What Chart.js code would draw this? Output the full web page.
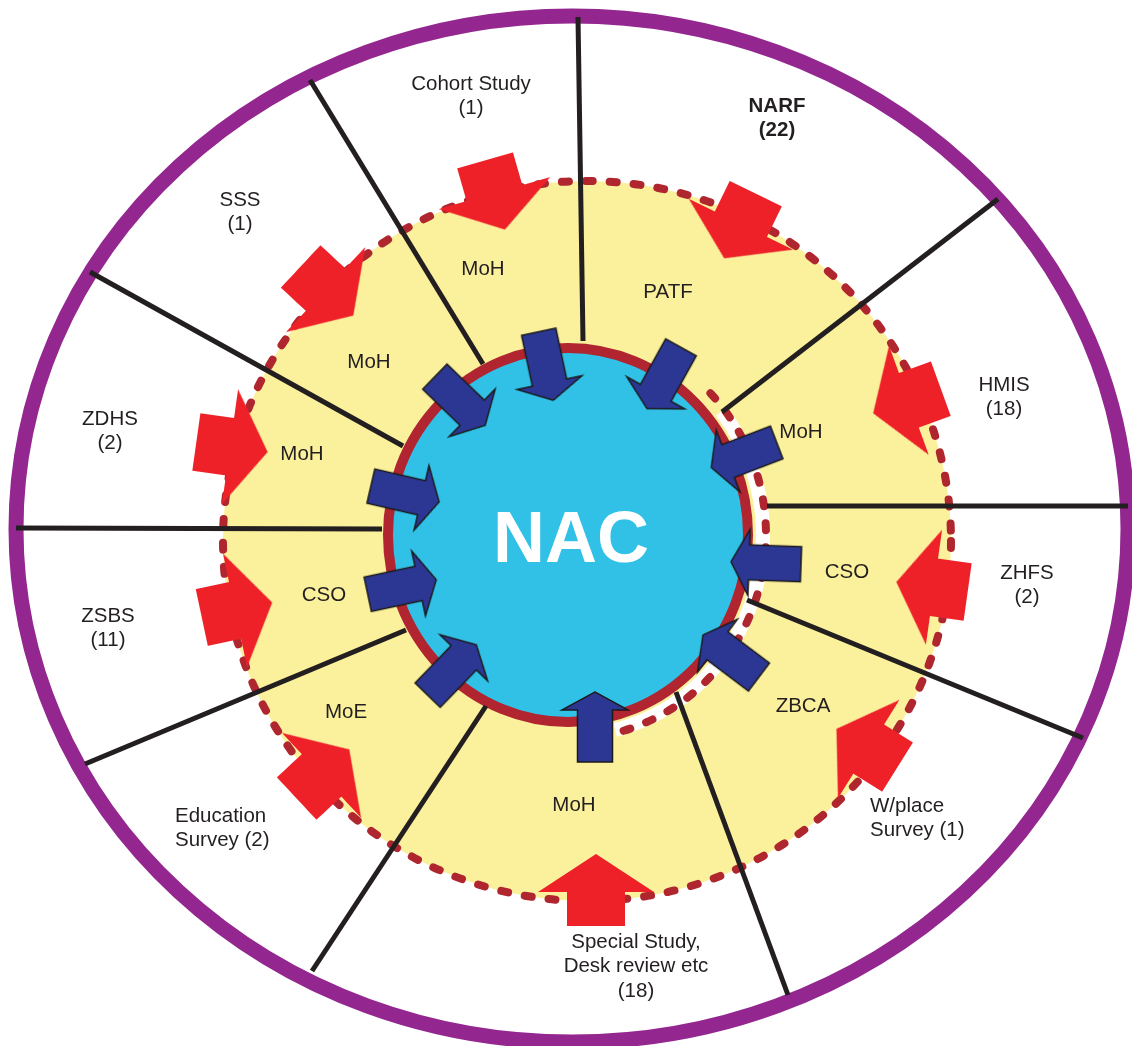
<!DOCTYPE html>
<html>
<head>
<meta charset="utf-8">
<title>NAC data flow</title>
<script src="https://cdn.jsdelivr.net/npm/chart.js@4.4.1/dist/chart.umd.min.js"></script>
<style>
  html, body { margin: 0; padding: 0; background: #fff; }
  canvas { display: block; }
</style>
</head>
<body>
<canvas id="diagram" width="1132" height="1046"></canvas>
<script>
// ===== Data (clockwise from the top sector) =====
const SOURCES       = ['Cohort Study', 'NARF', 'HMIS', 'ZHFS', 'W/place\nSurvey', 'Special Study,\nDesk review etc', 'Education\nSurvey', 'ZSBS', 'ZDHS', 'SSS'];
const SOURCE_COUNTS = [1, 22, 18, 2, 1, 18, 2, 11, 2, 1];
const COUNT_INLINE  = [false, false, false, false, true, false, true, false, false, false];
const AGENCIES      = ['MoH', 'PATF', 'MoH', 'CSO', 'ZBCA', 'MoH', 'MoE', 'CSO', 'MoH', 'MoH'];

// label anchors, diagram units (first text line)
const SOURCE_X = [471, 777, 1004, 1027, 870, 636, 175, 108, 110, 240];
const SOURCE_Y = [84, 106, 385, 573, 806, 942, 816, 616, 419, 200];
const AGENCY_X = [483, 668, 801, 847, 803, 574, 346, 324, 302, 369];
const AGENCY_Y = [269, 292, 432, 572, 706, 805, 712, 595, 454, 362];

// red arrows: source -> agency ring
const RED_X     = [495, 740, 907, 932, 867, 596, 323, 237, 232, 327];
const RED_Y     = [195, 226, 401, 587, 748, 890, 774, 610, 447, 291];
const RED_ANGLE = [74, 116, 160, 188, 212, 270, 317, 348, 8, 43];

// blue arrows: agency -> NAC
const BLUE_X     = [546, 664, 744, 766, 731, 595, 452, 402, 405, 460];
const BLUE_Y     = [366, 378, 455, 563, 656, 727, 670, 587, 494, 401];
const BLUE_ANGLE = [78, 119, 159, 182, 217, 270, 314, 348, 13, 44];

// sector divider lines (inner end, outer end)
const LINE_INNER = [[583, 341], [483, 364], [403, 446], [382, 529], [406, 630], [486, 706], [676, 692], [747, 600], [767, 506], [722, 412]];
const LINE_OUTER = [[578, 17], [310, 80], [90, 272], [16, 528], [85, 764], [312, 971], [788, 995], [1083, 738], [1128, 506], [998, 199]];

// ===== Geometry of the rings =====
const OUTER  = { cx: 572, cy: 529, rx: 556, ry: 513 };
const YELLOW = { cx: 587, cy: 541, rx: 364, ry: 360 };
const NAC    = { cx: 568, cy: 535, rx: 180, ry: 187 };
const GAP    = { cx: 568, cy: 535, rx: 198, ry: 204 };

const TEXT_COLOR = '#231F20';
const FONT = '"Liberation Sans", Arial, sans-serif';

// ---- arrow glyphs used as point styles (pointing right, rotated per point) ----
function makeArrow(len, headLen, headW, shaftW, fill, stroke) {
  const pad = 3;
  const c = document.createElement('canvas');
  c.width = len + pad * 2;
  c.height = headW + pad * 2;
  const g = c.getContext('2d');
  const cy = c.height / 2, x0 = pad, x1 = pad + len - headLen, x2 = pad + len;
  g.beginPath();
  g.moveTo(x0, cy - shaftW / 2);
  g.lineTo(x1, cy - shaftW / 2);
  g.lineTo(x1, cy - headW / 2);
  g.lineTo(x2, cy);
  g.lineTo(x1, cy + headW / 2);
  g.lineTo(x1, cy + shaftW / 2);
  g.lineTo(x0, cy + shaftW / 2);
  g.closePath();
  g.fillStyle = fill;
  g.fill();
  if (stroke) {
    g.lineWidth = 1.5;
    g.strokeStyle = stroke;
    g.stroke();
  }
  return c;
}
const redArrow  = makeArrow(72, 38, 116, 58, '#EE2129', null);
const blueArrow = makeArrow(70, 18, 66, 35, '#2C3794', '#1A1A1A');

// ---- helpers: diagram units -> pixels through the chart scales ----
function ellipseOf(chart, e) {
  const { x, y } = chart.scales;
  const cx = x.getPixelForValue(e.cx), cy = y.getPixelForValue(e.cy);
  return {
    cx, cy,
    rx: Math.abs(x.getPixelForValue(e.cx + e.rx) - cx),
    ry: Math.abs(y.getPixelForValue(e.cy + e.ry) - cy)
  };
}
const deg = d => d * Math.PI / 180;

function dotted(ctx) {
  ctx.setLineDash([7, 17]);
  ctx.lineCap = 'round';
  ctx.lineWidth = 8;
  ctx.strokeStyle = '#B0262F';
  ctx.stroke();
}

const ringsPlugin = {
  id: 'rings',
  beforeDatasetsDraw(chart) {
    const ctx = chart.ctx;
    ctx.save();

    // outer purple boundary
    let e = ellipseOf(chart, OUTER);
    ctx.beginPath();
    ctx.ellipse(e.cx, e.cy, e.rx, e.ry, 0, 0, Math.PI * 2);
    ctx.lineWidth = 15;
    ctx.strokeStyle = '#93278F';
    ctx.stroke();

    // yellow agency disc with dotted edge
    e = ellipseOf(chart, YELLOW);
    ctx.beginPath();
    ctx.ellipse(e.cx, e.cy, e.rx, e.ry, 0, 0, Math.PI * 2);
    ctx.fillStyle = '#FBF09B';
    ctx.fill();
    dotted(ctx);

    // white gap + inner dotted edge on the right of NAC
    e = ellipseOf(chart, GAP);
    ctx.setLineDash([]);
    ctx.lineCap = 'butt';
    ctx.beginPath();
    ctx.ellipse(e.cx, e.cy, e.rx - 3, e.ry - 3, 0, deg(-38), deg(76));
    ctx.lineWidth = 14;
    ctx.strokeStyle = '#FFFFFF';
    ctx.stroke();
    ctx.beginPath();
    ctx.ellipse(e.cx, e.cy, e.rx, e.ry, 0, deg(-44), deg(80));
    dotted(ctx);

    // NAC disc
    e = ellipseOf(chart, NAC);
    ctx.setLineDash([]);
    ctx.beginPath();
    ctx.ellipse(e.cx, e.cy, e.rx, e.ry, 0, 0, Math.PI * 2);
    ctx.fillStyle = '#31C1E7';
    ctx.fill();
    ctx.lineWidth = 10;
    ctx.strokeStyle = '#B0252F';
    ctx.stroke();

    ctx.restore();
  },
  afterDatasetsDraw(chart) {
    const ctx = chart.ctx;
    const { x, y } = chart.scales;
    ctx.save();
    ctx.fillStyle = TEXT_COLOR;
    ctx.textBaseline = 'middle';

    // sources with counts
    SOURCES.forEach((name, i) => {
      const lines = name.split('\n');
      if (COUNT_INLINE[i]) lines[lines.length - 1] += ' (' + SOURCE_COUNTS[i] + ')';
      else lines.push('(' + SOURCE_COUNTS[i] + ')');
      ctx.font = (name === 'NARF' ? 'bold ' : '') + '20.5px ' + FONT;
      ctx.textAlign = COUNT_INLINE[i] ? 'left' : 'center';
      lines.forEach((t, k) => {
        ctx.fillText(t, x.getPixelForValue(SOURCE_X[i]), y.getPixelForValue(SOURCE_Y[i] + k * 24.5));
      });
    });

    // agencies
    ctx.font = '20.5px ' + FONT;
    ctx.textAlign = 'center';
    AGENCIES.forEach((a, i) => {
      ctx.fillText(a, x.getPixelForValue(AGENCY_X[i]), y.getPixelForValue(AGENCY_Y[i]));
    });

    // centre
    ctx.fillStyle = '#FFFFFF';
    ctx.font = 'bold 72px ' + FONT;
    ctx.textBaseline = 'alphabetic';
    ctx.fillText('NAC', x.getPixelForValue(NAC.cx + 3), y.getPixelForValue(562));
    ctx.restore();
  }
};

const lineDatasets = LINE_INNER.map((p, i) => ({
  label: 'divider ' + (i + 1),
  data: [{ x: p[0], y: p[1] }, { x: LINE_OUTER[i][0], y: LINE_OUTER[i][1] }],
  showLine: true,
  borderColor: TEXT_COLOR,
  borderWidth: 5,
  borderCapStyle: 'butt',
  pointRadius: 0,
  order: 2
}));

new Chart(document.getElementById('diagram'), {
  type: 'scatter',
  data: {
    datasets: [
      {
        label: 'Agency to NAC',
        data: BLUE_X.map((v, i) => ({ x: v, y: BLUE_Y[i] })),
        pointStyle: blueArrow,
        pointRotation: ctx => BLUE_ANGLE[ctx.dataIndex],
        pointRadius: 10,
        order: 0
      },
      {
        label: 'Source to agency',
        data: RED_X.map((v, i) => ({ x: v, y: RED_Y[i] })),
        pointStyle: redArrow,
        pointRotation: ctx => RED_ANGLE[ctx.dataIndex],
        pointRadius: 10,
        order: 1
      },
      ...lineDatasets
    ]
  },
  options: {
    responsive: false,
    devicePixelRatio: 1,
    animation: false,
    events: [],
    layout: { padding: 0, autoPadding: false },
    plugins: { legend: { display: false }, tooltip: { enabled: false } },
    scales: {
      x: { type: 'linear', min: 0, max: 1132, display: false },
      y: { type: 'linear', min: 0, max: 1046, reverse: true, display: false }
    }
  },
  plugins: [ringsPlugin]
});
</script>
</body>
</html>
